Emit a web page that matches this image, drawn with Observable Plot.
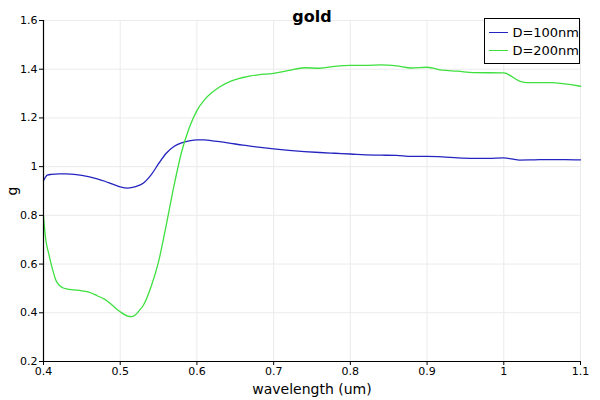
<!DOCTYPE html>
<html><head><meta charset="utf-8">
<script src="https://cdn.jsdelivr.net/npm/d3@7"></script>
<script src="https://cdn.jsdelivr.net/npm/@observablehq/plot@0.6"></script>
<style>
body{margin:0;background:#fff;font-family:"DejaVu Sans",sans-serif;}
#wrap{position:relative;width:600px;height:400px;}
#wrap svg{font-family:"DejaVu Sans",sans-serif;}
[aria-label="y-axis label"] text,[aria-label="x-axis label"] text{font-size:14px;}
.legend{position:absolute;left:484px;top:18px;width:96px;border:1px solid #000;background:#fff;font-size:13px;padding:4px 0 4px 0;box-sizing:border-box;}
.legend div{display:flex;align-items:center;height:18px;}
.legend span.sw{display:inline-block;width:23px;height:0;border-top:1.3px solid;margin:0 4px 0 4px;}
</style>
</head><body><div id="wrap"></div>
<script>
const title = "gold";
const xLabel = "wavelength (um)";
const yLabel = "g";
const seriesNames = ["D=100nm", "D=200nm"];
const seriesColors = ["#2424c0", "#3ee03e"];
const xDomain = [0.4, 1.1];
const yDomain = [0.2, 1.6];
const xTicks = [0.4, 0.5, 0.6, 0.7, 0.8, 0.9, 1.0, 1.1];
const yTicks = [0.2, 0.4, 0.6, 0.8, 1.0, 1.2, 1.4, 1.6];

const wl100 = [0.400,0.405,0.410,0.420,0.430,0.440,0.450,0.460,0.470,0.480,0.490,0.500,0.510,0.520,0.530,0.540,0.550,0.560,0.570,0.580,0.590,0.600,0.610,0.620,0.640,0.660,0.680,0.700,0.720,0.740,0.760,0.780,0.800,0.820,0.840,0.860,0.880,0.900,0.920,0.940,0.960,0.980,1.000,1.020,1.040,1.060,1.080,1.100];
const g100 = [0.942,0.965,0.968,0.970,0.970,0.968,0.964,0.958,0.950,0.940,0.928,0.917,0.912,0.918,0.932,0.965,1.012,1.055,1.083,1.098,1.106,1.110,1.110,1.106,1.098,1.088,1.080,1.073,1.067,1.062,1.058,1.055,1.052,1.048,1.047,1.046,1.042,1.042,1.040,1.036,1.034,1.034,1.036,1.027,1.028,1.029,1.029,1.028];

const wl200 = [0.400,0.403,0.407,0.410,0.413,0.416,0.420,0.425,0.430,0.440,0.450,0.460,0.470,0.480,0.490,0.500,0.510,0.515,0.520,0.525,0.530,0.540,0.550,0.560,0.570,0.580,0.590,0.600,0.610,0.620,0.630,0.640,0.650,0.660,0.670,0.680,0.700,0.720,0.740,0.760,0.780,0.800,0.820,0.840,0.860,0.880,0.900,0.920,0.940,0.960,1.000,1.020,1.030,1.060,1.100];
const g200 = [0.795,0.700,0.640,0.600,0.565,0.535,0.515,0.503,0.498,0.494,0.490,0.484,0.470,0.455,0.430,0.404,0.386,0.384,0.392,0.410,0.430,0.505,0.610,0.760,0.920,1.060,1.160,1.230,1.275,1.305,1.328,1.345,1.357,1.366,1.373,1.377,1.383,1.395,1.406,1.404,1.412,1.416,1.416,1.418,1.414,1.405,1.408,1.396,1.392,1.386,1.385,1.352,1.345,1.345,1.330];

const d100 = wl100.map((x, i) => ({x, y: g100[i], s: seriesNames[0]}));
const d200 = wl200.map((x, i) => ({x, y: g200[i], s: seriesNames[1]}));
const fmt = d3.format("~g");

const chart = Plot.plot({
  width: 600, height: 400,
  marginLeft: 43, marginRight: 20, marginTop: 20, marginBottom: 39,
  style: {fontFamily: "DejaVu Sans", fontSize: "11px", background: "#fff"},
  x: {domain: xDomain},
  y: {domain: yDomain},
  marks: [
    Plot.gridX(xTicks, {stroke: "#ebebeb", strokeOpacity: 1}),
    Plot.gridY(yTicks, {stroke: "#ebebeb", strokeOpacity: 1}),
    Plot.line(d100, {x: "x", y: "y", stroke: seriesColors[0], strokeWidth: 1.3, curve: "monotone-x"}),
    Plot.line(d200, {x: "x", y: "y", stroke: seriesColors[1], strokeWidth: 1.3, curve: "monotone-x"}),
    Plot.ruleX([xDomain[0]], {stroke: "#000", strokeWidth: 1.2}),
    Plot.ruleY([yDomain[0]], {stroke: "#000", strokeWidth: 1.2}),
    Plot.axisX({ticks: xTicks, tickFormat: fmt, tickSize: 4, tickPadding: 2, fontSize: 11, label: xLabel, labelAnchor: "center", labelArrow: "none", labelOffset: 32}),
    Plot.axisY({ticks: yTicks, tickFormat: fmt, tickSize: 4, tickPadding: 2, fontSize: 11, label: yLabel, labelAnchor: "center", labelArrow: "none", labelOffset: 36}),
    Plot.text([title], {frameAnchor: "top", dy: -10, fontSize: 16, fontWeight: "bold", fill: "#000"})
  ]
});
const wrap = document.getElementById("wrap");
wrap.appendChild(chart);
const leg = document.createElement("div");
leg.className = "legend";
seriesNames.forEach((n, i) => {
  const row = document.createElement("div");
  row.innerHTML = `<span class="sw" style="border-color:${seriesColors[i]}"></span><span>${n}</span>`;
  leg.appendChild(row);
});
wrap.appendChild(leg);
</script>
</body></html>
